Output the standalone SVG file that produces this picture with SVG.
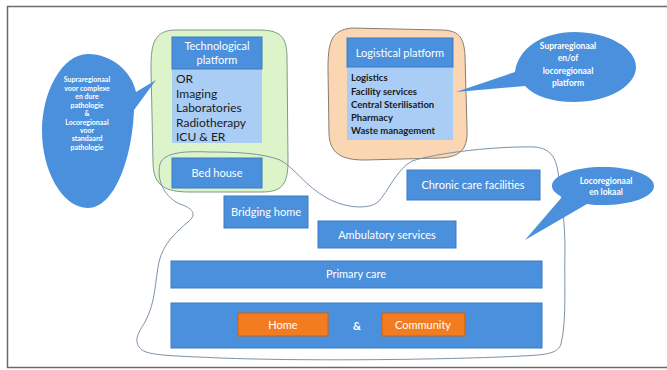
<svg xmlns="http://www.w3.org/2000/svg" width="667" height="370" viewBox="0 0 667 370">
  <style>
    text { font-family: Lato, "Open Sans", "Liberation Sans", sans-serif; }
    .box { fill: #4a90dc; stroke: #3b7cc4; stroke-width: 1; }
    .list { fill: #a9cdf5; }
    .orange { fill: #f47c20; stroke: #c9600f; stroke-width: 1; }
    .wt { fill: #ffffff; text-anchor: middle; }
    .dk { fill: #1b1b1b; }
    .bubble { fill: #4a90dc; }
    .btxt { fill: #ffffff; text-anchor: middle; font-size: 7px; font-weight: bold; }
  </style>

  <!-- outer frame -->
  <rect x="7.5" y="6.5" width="670" height="361" fill="#ffffff" stroke="#6b6b6b" stroke-width="1.5"/>

  <!-- platform regions -->
  <path id="tech-region" d="M176,30 C154,30 151,44 151,68 L153,162 C153,186 165,192 190,192 L262,192 C284,192 288,182 288,160 L287,58 C287,36 280,30 258,30 Z" fill="#ddf3c9" stroke="#7f9a84" stroke-width="1"/>
  <path id="log-region" d="M352,28 C330,30 328,44 328,70 L329,134 C330,154 342,160 365,160 L440,158 C462,157 468,148 467,128 L465,56 C464,36 458,30 440,30 Z" fill="#fbd6b2" stroke="#8a7c72" stroke-width="1"/>

  <!-- locoregional / local care area outline -->
  <path id="local-region" d="M160,164 C164,152 185,151 210,152 C235,152 262,153 280,160 C295,168 305,186 327,198 C345,208 368,210 378,202 C388,192 396,170 412,161 C440,152 500,146 535,147 C553,149 557,160 559,180 C562,200 565,225 565,250 C564,280 567,320 561,344 C557,356 540,355 500,357 C420,360 300,361 220,358 C180,356 150,356 142,350 C133,342 137,335 145,322 C156,302 155,280 159,262 C163,244 176,232 188,222 C198,214 192,208 180,204 C166,198 156,182 160,164 Z" fill="none" stroke="#7c93a8" stroke-width="1"/>

  <!-- callout bubbles -->
  <g id="bubble-left">
    <path class="bubble" d="M88,54 C112,54 132,72 136,92 L156,80 L134,110 C132,160 114,208 88,208 C62,208 42,170 42,131 C42,92 62,54 88,54 Z"/>
    <text class="btxt" x="87" y="82">Supraregionaal</text>
    <text class="btxt" x="87" y="91">voor complexe</text>
    <text class="btxt" x="87" y="99">en dure</text>
    <text class="btxt" x="87" y="108">pathologie</text>
    <text class="btxt" x="87" y="116">&amp;</text>
    <text class="btxt" x="87" y="125">Locoregionaal</text>
    <text class="btxt" x="87" y="133">voor</text>
    <text class="btxt" x="87" y="141">standaard</text>
    <text class="btxt" x="87" y="150">pathologie</text>
  </g>

  <g id="bubble-platform">
    <path class="bubble" d="M515,72 C518,48 543,32 574,32 C608,32 636,48 636,67 C636,86 608,102 574,102 C552,102 534,96 525,86 L456,92 Z"/>
    <text class="btxt" x="568" y="49" style="font-size:8.5px">Supraregionaal</text>
    <text class="btxt" x="568" y="61" style="font-size:8.5px">en/of</text>
    <text class="btxt" x="568" y="74" style="font-size:8.5px">locoregionaal</text>
    <text class="btxt" x="568" y="86" style="font-size:8.5px">platform</text>
  </g>

  <g id="bubble-local">
    <path class="bubble" d="M562,197 C555,193 552,190 552,186 C552,175 575,167 603,167 C631,167 654,175 654,186 C654,197 631,205 603,205 C597,205 592,205 587,204 L525,240 Z"/>
    <text class="btxt" x="606" y="184" style="font-size:8.5px">Locoregionaal</text>
    <text class="btxt" x="606" y="195" style="font-size:8.5px">en lokaal</text>
  </g>

  <!-- technological platform -->
  <g id="tech-platform">
    <rect class="list" x="172" y="69" width="90" height="74"/>
    <rect class="box" x="172" y="37" width="90" height="32"/>
    <text class="wt" x="217" y="50" font-size="11">Technological</text>
    <text class="wt" x="217" y="64" font-size="11">platform</text>
    <text class="dk" x="176" y="83" font-size="12">OR</text>
    <text class="dk" x="176" y="98" font-size="12">Imaging</text>
    <text class="dk" x="176" y="112" font-size="12">Laboratories</text>
    <text class="dk" x="176" y="127" font-size="12">Radiotherapy</text>
    <text class="dk" x="176" y="141" font-size="12">ICU &amp; ER</text>
  </g>

  <!-- logistical platform -->
  <g id="logistical-platform">
    <rect class="list" x="347" y="67" width="106" height="73"/>
    <rect class="box" x="347" y="38" width="106" height="29"/>
    <text class="wt" x="400" y="57" font-size="11">Logistical platform</text>
    <text class="dk" x="351" y="81" font-size="9.5" font-weight="bold">Logistics</text>
    <text class="dk" x="351" y="95" font-size="9.5" font-weight="bold">Facility services</text>
    <text class="dk" x="351" y="108" font-size="9.5" font-weight="bold">Central Sterilisation</text>
    <text class="dk" x="351" y="121" font-size="9.5" font-weight="bold">Pharmacy</text>
    <text class="dk" x="351" y="134" font-size="9.5" font-weight="bold">Waste management</text>
  </g>

  <g id="bed-house">
    <rect class="box" x="172" y="158" width="90" height="30"/>
    <text class="wt" x="217" y="177" font-size="11">Bed house</text>
  </g>

  <g id="bridging-home">
    <rect class="box" x="224" y="196" width="84" height="32"/>
    <text class="wt" x="266" y="216" font-size="11">Bridging home</text>
  </g>

  <g id="chronic-care">
    <rect class="box" x="407" y="170" width="133" height="30"/>
    <text class="wt" x="473" y="189" font-size="11">Chronic care facilities</text>
  </g>

  <g id="ambulatory">
    <rect class="box" x="318" y="221" width="138" height="27"/>
    <text class="wt" x="387" y="239" font-size="11">Ambulatory services</text>
  </g>

  <g id="primary-care">
    <rect class="box" x="171" y="261" width="371" height="27"/>
    <text class="wt" x="356" y="278" font-size="11">Primary care</text>
  </g>

  <g id="home-community">
    <rect class="box" x="171" y="303" width="371" height="45"/>
    <rect class="orange" x="238" y="313" width="90" height="23"/>
    <text class="wt" x="283" y="329" font-size="11">Home</text>
    <text class="wt" x="357" y="330" font-size="11" font-weight="bold">&amp;</text>
    <rect class="orange" x="382" y="313" width="83" height="23"/>
    <text class="wt" x="423" y="329" font-size="11">Community</text>
  </g>
</svg>
